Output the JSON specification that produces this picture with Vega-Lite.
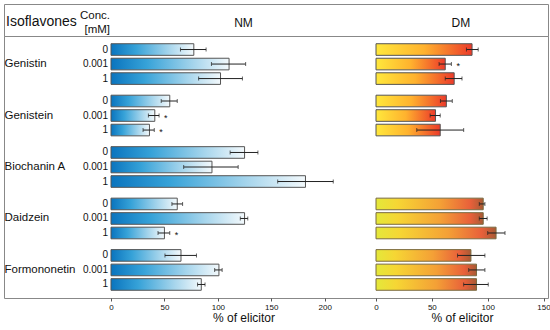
{
  "$schema": "https://vega.github.io/schema/vega-lite/v6.json",
  "padding": 3,
  "background": "white",
  "config": {
    "font": "Liberation Sans",
    "view": {"stroke": "#888", "strokeWidth": 1},
    "text": {"color": "#111"}
  },
  "datasets": {
    "nm": [
      {"Iso": "Genistin", "Conc": "0", "Mean": 77.5, "Lo": 65, "Hi": 89, "Sig": ""},
      {"Iso": "Genistin", "Conc": "0.001", "Mean": 110.5, "Lo": 94, "Hi": 126, "Sig": ""},
      {"Iso": "Genistin", "Conc": "1", "Mean": 102.5, "Lo": 82, "Hi": 123, "Sig": ""},
      {"Iso": "Genistein", "Conc": "0", "Mean": 55, "Lo": 47, "Hi": 62, "Sig": ""},
      {"Iso": "Genistein", "Conc": "0.001", "Mean": 41, "Lo": 35, "Hi": 45, "Sig": "*"},
      {"Iso": "Genistein", "Conc": "1", "Mean": 36, "Lo": 30, "Hi": 40.5, "Sig": "*"},
      {"Iso": "Biochanin A", "Conc": "0", "Mean": 125, "Lo": 111.5, "Hi": 137.5, "Sig": ""},
      {"Iso": "Biochanin A", "Conc": "0.001", "Mean": 94.5, "Lo": 68, "Hi": 119, "Sig": ""},
      {"Iso": "Biochanin A", "Conc": "1", "Mean": 182, "Lo": 156, "Hi": 208, "Sig": ""},
      {"Iso": "Daidzein", "Conc": "0", "Mean": 62, "Lo": 57, "Hi": 67, "Sig": ""},
      {"Iso": "Daidzein", "Conc": "0.001", "Mean": 125, "Lo": 121, "Hi": 128, "Sig": ""},
      {"Iso": "Daidzein", "Conc": "1", "Mean": 50, "Lo": 44, "Hi": 55, "Sig": "*"},
      {"Iso": "Formononetin", "Conc": "0", "Mean": 65.5, "Lo": 50.5, "Hi": 80, "Sig": ""},
      {"Iso": "Formononetin", "Conc": "0.001", "Mean": 101, "Lo": 97, "Hi": 104, "Sig": ""},
      {"Iso": "Formononetin", "Conc": "1", "Mean": 84.5, "Lo": 81, "Hi": 88, "Sig": ""}
    ],
    "dm": [
      {"Iso": "Genistin", "Conc": "0", "Mean": 86, "Lo": 81, "Hi": 91.5, "Sig": ""},
      {"Iso": "Genistin", "Conc": "0.001", "Mean": 62, "Lo": 56.5, "Hi": 67.5, "Sig": "*"},
      {"Iso": "Genistin", "Conc": "1", "Mean": 70, "Lo": 62, "Hi": 77, "Sig": ""},
      {"Iso": "Genistein", "Conc": "0", "Mean": 63, "Lo": 57.7, "Hi": 68.3, "Sig": ""},
      {"Iso": "Genistein", "Conc": "0.001", "Mean": 53.3, "Lo": 48.5, "Hi": 57.5, "Sig": ""},
      {"Iso": "Genistein", "Conc": "1", "Mean": 57.5, "Lo": 36.5, "Hi": 78.5, "Sig": ""},
      {"Iso": "Daidzein", "Conc": "0", "Mean": 96, "Lo": 92.5, "Hi": 97.5, "Sig": ""},
      {"Iso": "Daidzein", "Conc": "0.001", "Mean": 96, "Lo": 92.5, "Hi": 99.5, "Sig": ""},
      {"Iso": "Daidzein", "Conc": "1", "Mean": 107.5, "Lo": 100, "Hi": 115.5, "Sig": ""},
      {"Iso": "Formononetin", "Conc": "0", "Mean": 85, "Lo": 73, "Hi": 97.5, "Sig": ""},
      {"Iso": "Formononetin", "Conc": "0.001", "Mean": 90, "Lo": 83, "Hi": 97.5, "Sig": ""},
      {"Iso": "Formononetin", "Conc": "1", "Mean": 90, "Lo": 78.5, "Hi": 100.5, "Sig": ""}
    ]
  },
  "spacing": 0,
  "bounds": "flush",
  "vconcat": [
    {
      "width": 544,
      "height": 32,
      "title": {"text": "Isoflavones", "anchor": "start", "orient": "top", "offset": -25, "fontSize": 14, "fontWeight": "normal", "dx": 2, "color": "#111"},
      "layer": [
        {
          "data": {"values": [{"Label": "NM"}]},
          "mark": {"type": "text", "fontSize": 12, "baseline": "middle", "dy": 3},
          "encoding": {
            "text": {"field": "Label"},
            "x": {"datum": 124, "type": "quantitative", "scale": {"domain": [0, 248], "range": [107, 372], "nice": false}, "axis": null}
          }
        },
        {
          "data": {"values": [{"Label": "Conc. [mM]"}]},
          "mark": {"type": "text", "fontSize": 11.5, "align": "right", "dx": -1, "lineHeight": 14, "lineBreak": " ", "baseline": "middle", "dy": -4},
          "encoding": {
            "text": {"field": "Label"},
            "x": {"datum": 0, "type": "quantitative", "scale": {"domain": [0, 248], "range": [107, 372], "nice": false}, "axis": null}
          }
        },
        {
          "data": {"values": [{"Label": "DM"}]},
          "mark": {"type": "text", "fontSize": 12, "baseline": "middle", "dy": 3},
          "encoding": {
            "text": {"field": "Label"},
            "x": {"datum": 76, "type": "quantitative", "scale": {"domain": [0, 154], "range": [372, 544], "nice": false}, "axis": null}
          }
        }
      ],
      "resolve": {"scale": {"x": "independent"}}
    },
    {
      "width": 544,
      "height": 262,
      "resolve": {"scale": {"x": "independent"}, "axis": {"x": "independent"}},
      "layer": [
        {
          "layer": [
            {
              "mark": {"type": "rule", "color": "#888", "strokeWidth": 1},
              "encoding": {"x": {"datum": 0, "type": "quantitative",
                "scale": {"domain": [0, 248], "range": [107, 372], "nice": false},
                "axis": {"orient": "bottom", "domain": false, "grid": false, "tickSize": 3, "tickColor": "#555", "values": [0, 50, 100, 150, 200], "labelFontSize": 8, "labelPadding": 2, "labelFlush": false, "labelColor": "#111", "title": "% of elicitor", "titleFontSize": 12, "titleFontWeight": "normal", "titleColor": "#111", "titlePadding": 1}}}
            },
            {
              "mark": {"type": "rule", "color": "#bbb", "strokeDash": [3, 3], "strokeWidth": 1},
              "encoding": {"x": {"datum": 100, "type": "quantitative"}}
            },
            {
              "data": {"name": "nm"},
              "mark": {"type": "bar", "stroke": "#555", "strokeWidth": 1,
                "color": {"gradient": "linear", "x1": 0, "x2": 1, "y1": 0, "y2": 0,
                  "stops": [{"offset": 0, "color": "#0a74be"}, {"offset": 0.3, "color": "#36a2d8"}, {"offset": 0.7, "color": "#a6d5ec"}, {"offset": 1, "color": "#f3f9fc"}]}},
              "encoding": {
                "y": {"field": "Iso", "type": "nominal", "title": null, "scale": {"domain": ["Genistin", "Genistein", "Biochanin A", "Daidzein", "Formononetin"], "paddingInner": 0.21, "paddingOuter": 0.15},
                  "axis": {"orient": "left", "domain": false, "ticks": false, "tickSize": 0, "labelAlign": "left", "labelPadding": 0, "labelFontSize": 11.5, "labelColor": "#111"}},
                "yOffset": {"field": "Conc", "type": "nominal", "scale": {"domain": ["0", "0.001", "1"], "paddingInner": 0.2, "paddingOuter": 0}},
                "x": {"field": "Mean", "type": "quantitative"}
              }
            },
            {
              "data": {"name": "nm"},
              "mark": {"type": "rule", "color": "#222", "strokeWidth": 1},
              "encoding": {
                "y": {"field": "Iso", "type": "nominal"},
                "yOffset": {"field": "Conc", "type": "nominal"},
                "x": {"field": "Lo", "type": "quantitative"},
                "x2": {"field": "Hi"}
              }
            },
            {
              "data": {"name": "nm"},
              "mark": {"type": "tick", "color": "#222", "size": 4, "thickness": 1},
              "encoding": {
                "y": {"field": "Iso", "type": "nominal"},
                "yOffset": {"field": "Conc", "type": "nominal"},
                "x": {"field": "Lo", "type": "quantitative"}
              }
            },
            {
              "data": {"name": "nm"},
              "mark": {"type": "tick", "color": "#222", "size": 4, "thickness": 1},
              "encoding": {
                "y": {"field": "Iso", "type": "nominal"},
                "yOffset": {"field": "Conc", "type": "nominal"},
                "x": {"field": "Hi", "type": "quantitative"}
              }
            },
            {
              "data": {"name": "nm"},
              "transform": [{"filter": "datum.Sig != ''"}],
              "mark": {"type": "text", "align": "left", "dx": 5, "dy": 2, "fontSize": 9, "baseline": "middle"},
              "encoding": {
                "y": {"field": "Iso", "type": "nominal"},
                "yOffset": {"field": "Conc", "type": "nominal"},
                "x": {"field": "Hi", "type": "quantitative"},
                "text": {"field": "Sig"}
              }
            },
            {
              "data": {"name": "nm"},
              "mark": {"type": "text", "align": "right", "dx": -3, "fontSize": 10, "baseline": "middle"},
              "encoding": {
                "y": {"field": "Iso", "type": "nominal"},
                "yOffset": {"field": "Conc", "type": "nominal"},
                "x": {"datum": 0, "type": "quantitative"},
                "text": {"field": "Conc"}
              }
            }
          ]
        },
        {
          "layer": [
            {
              "mark": {"type": "rule", "color": "#888", "strokeWidth": 1},
              "encoding": {"x": {"datum": 0, "type": "quantitative",
                "scale": {"domain": [0, 154], "range": [372, 544], "nice": false},
                "axis": {"orient": "bottom", "domain": false, "grid": false, "tickSize": 3, "tickColor": "#555", "values": [0, 50, 100, 150], "labelFontSize": 8, "labelPadding": 2, "labelFlush": false, "labelColor": "#111", "title": "% of elicitor", "titleFontSize": 12, "titleFontWeight": "normal", "titleColor": "#111", "titlePadding": 1}}}
            },
            {
              "mark": {"type": "rule", "color": "#bbb", "strokeDash": [3, 3], "strokeWidth": 1},
              "encoding": {"x": {"datum": 100, "type": "quantitative"}}
            },
            {
              "data": {"name": "dm"},
              "transform": [{"filter": "datum.Iso == 'Genistin' || datum.Iso == 'Genistein'"}],
              "mark": {"type": "bar", "stroke": "#555", "strokeWidth": 1,
                "color": {"gradient": "linear", "x1": 0, "x2": 1, "y1": 0, "y2": 0,
                  "stops": [{"offset": 0, "color": "#ffe83c"}, {"offset": 0.5, "color": "#ffb22e"}, {"offset": 1, "color": "#ec3a2a"}]}},
              "encoding": {
                "y": {"field": "Iso", "type": "nominal"},
                "yOffset": {"field": "Conc", "type": "nominal"},
                "x": {"field": "Mean", "type": "quantitative"}
              }
            },
            {
              "data": {"name": "dm"},
              "transform": [{"filter": "datum.Iso == 'Daidzein' || datum.Iso == 'Formononetin'"}],
              "mark": {"type": "bar", "stroke": "#7a6a40", "strokeWidth": 1,
                "color": {"gradient": "linear", "x1": 0, "x2": 1, "y1": 0, "y2": 0,
                  "stops": [{"offset": 0, "color": "#e4e83a"}, {"offset": 0.2, "color": "#f6d634"}, {"offset": 0.6, "color": "#f4a036"}, {"offset": 0.88, "color": "#e8603a"}, {"offset": 1, "color": "#a85a34"}]}},
              "encoding": {
                "y": {"field": "Iso", "type": "nominal"},
                "yOffset": {"field": "Conc", "type": "nominal"},
                "x": {"field": "Mean", "type": "quantitative"}
              }
            },
            {
              "data": {"name": "dm"},
              "mark": {"type": "rule", "color": "#222", "strokeWidth": 1},
              "encoding": {
                "y": {"field": "Iso", "type": "nominal"},
                "yOffset": {"field": "Conc", "type": "nominal"},
                "x": {"field": "Lo", "type": "quantitative"},
                "x2": {"field": "Hi"}
              }
            },
            {
              "data": {"name": "dm"},
              "mark": {"type": "tick", "color": "#222", "size": 4, "thickness": 1},
              "encoding": {
                "y": {"field": "Iso", "type": "nominal"},
                "yOffset": {"field": "Conc", "type": "nominal"},
                "x": {"field": "Lo", "type": "quantitative"}
              }
            },
            {
              "data": {"name": "dm"},
              "mark": {"type": "tick", "color": "#222", "size": 4, "thickness": 1},
              "encoding": {
                "y": {"field": "Iso", "type": "nominal"},
                "yOffset": {"field": "Conc", "type": "nominal"},
                "x": {"field": "Hi", "type": "quantitative"}
              }
            },
            {
              "data": {"name": "dm"},
              "transform": [{"filter": "datum.Sig != ''"}],
              "mark": {"type": "text", "align": "left", "dx": 5, "dy": 2, "fontSize": 9, "baseline": "middle"},
              "encoding": {
                "y": {"field": "Iso", "type": "nominal"},
                "yOffset": {"field": "Conc", "type": "nominal"},
                "x": {"field": "Hi", "type": "quantitative"},
                "text": {"field": "Sig"}
              }
            }
          ]
        }
      ]
    },
    {
      "width": 544,
      "height": 29,
      "mark": {"type": "point", "opacity": 0},
      "encoding": {}
    }
  ]
}
